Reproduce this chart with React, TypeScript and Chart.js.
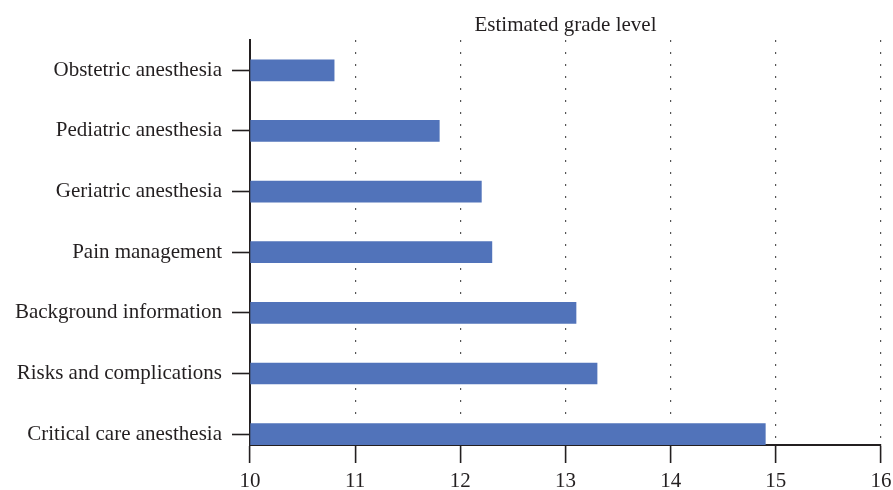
import React, { useEffect, useRef } from "react";
import { Chart, registerables } from "chart.js";

Chart.register(...registerables);

const categories = [
  "Obstetric anesthesia",
  "Pediatric anesthesia",
  "Geriatric anesthesia",
  "Pain management",
  "Background information",
  "Risks and complications",
  "Critical care anesthesia",
];
const gradeLevels = [10.8, 11.8, 12.2, 12.3, 13.1, 13.3, 14.9];
const xTicks = [10, 11, 12, 13, 14, 15, 16];
const titleText = "Estimated grade level";

const INK = "#231f20";
const FONT = "'Liberation Serif', 'DejaVu Serif', serif";

export default function App() {
  const ref = useRef<HTMLCanvasElement | null>(null);
  useEffect(() => {
    if (!ref.current) return;
    const chart = new Chart(ref.current, {
      type: "bar",
      data: {
        labels: categories,
        datasets: [
          {
            data: gradeLevels.map((v, i) => ({ x: v, y: i })),
            backgroundColor: "#5173ba",
            barThickness: 21,
            base: 10,
          } as any,
        ],
      },
      options: {
        indexAxis: "y",
        animation: false,
        responsive: false,
        layout: { padding: { left: 0, right: 12, top: 0, bottom: 0 } },
        plugins: {
          legend: { display: false },
          tooltip: { enabled: false },
          title: {
            display: true,
            fullSize: false,
            text: titleText,
            color: INK,
            font: { family: FONT, size: 21, weight: "normal", lineHeight: 1.2 },
            padding: { top: 13, bottom: 1.8 },
          },
        },
        scales: {
          x: {
            type: "linear",
            min: 10,
            max: 16,
            afterBuildTicks: (s: any) => {
              s.ticks = xTicks.map((v) => ({ value: v }));
            },
            afterFit: (s: any) => {
              s.height = 45;
              s.paddingRight = 0;
              s.paddingLeft = 0;
            },
            border: { display: true, color: INK, width: 2, dash: [2, 10] },
            grid: {
              display: true,
              drawOnChartArea: true,
              drawTicks: true,
              color: "#555555",
              lineWidth: 1.2,
              tickLength: 18,
              tickColor: INK,
              tickWidth: 1.6,
              tickBorderDash: [],
            } as any,
            ticks: {
              color: INK,
              padding: 6,
              font: { family: FONT, size: 21 },
              maxRotation: 0,
            },
          },
          y: {
            type: "linear",
            reverse: true,
            offset: false,
            min: -0.5,
            max: 6.18,
            afterBuildTicks: (s: any) => {
              s.ticks = categories.map((_, i) => ({ value: i }));
            },
            afterFit: (s: any) => {
              s.width = 250;
            },
            border: { display: true, color: INK, width: 2 },
            grid: {
              display: true,
              offset: false,
              drawOnChartArea: false,
              drawTicks: true,
              tickLength: 18,
              tickColor: INK,
              tickWidth: 1.6,
            } as any,
            ticks: {
              color: INK,
              padding: 10,
              font: { family: FONT, size: 21 },
              callback: (v: any) => categories[Math.round(Number(v))] ?? "",
            },
          },
        },
      },
    });
    return () => chart.destroy();
  }, []);
  return (
    <div style={{ position: "fixed", left: 0, top: 0, width: 893, height: 490, background: "#fff" }}>
      <canvas ref={ref} width={893} height={490} style={{ display: "block" }} />
    </div>
  );
}
